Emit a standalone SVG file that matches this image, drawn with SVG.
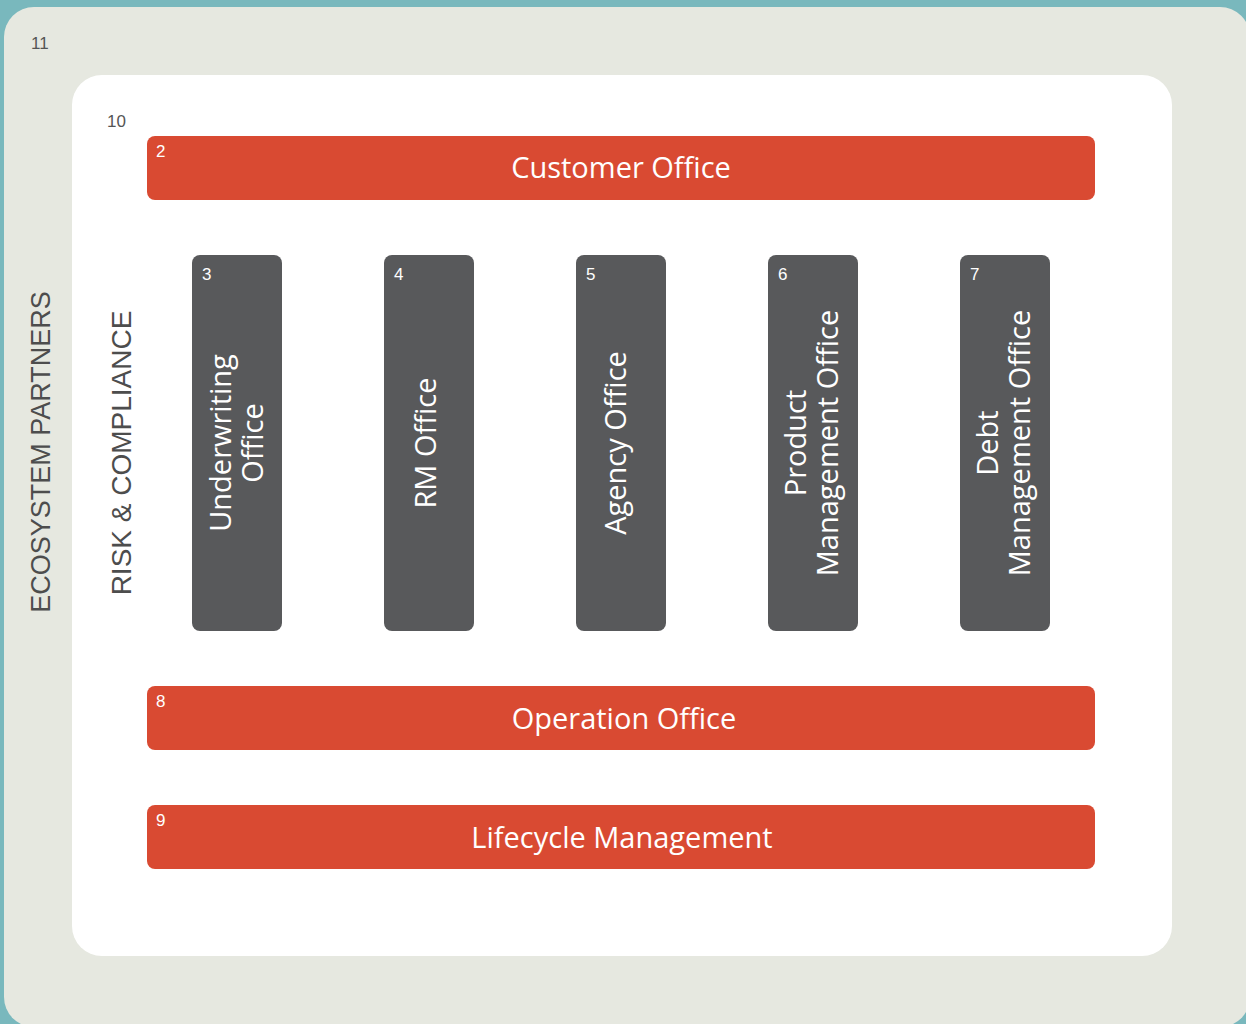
<svg xmlns="http://www.w3.org/2000/svg" width="1246" height="1024" viewBox="0 0 1246 1024">
<style>
.bar{fill:#d94a32}
.col{fill:#58595b}
.lbl{font-family:"Open Sans","Liberation Sans",sans-serif;font-size:29px;fill:#ffffff;text-anchor:middle}
.num{font-family:"Liberation Sans",sans-serif;font-size:17px;fill:#ffffff}
.gnum{font-family:"Liberation Sans",sans-serif;font-size:17px;fill:#555555}
.side{font-family:"Liberation Sans",sans-serif;font-size:27px;fill:#4d4d4d;text-anchor:middle}
</style>
<rect x="0" y="0" width="1246" height="1024" fill="#79b8bd"/>
<g id="n11">
<rect x="4" y="7" width="1246" height="1020" rx="30" fill="#e6e8e0"/>
<text class="gnum" x="31" y="49">11</text>
<text class="side" transform="translate(50,452) rotate(-90)">ECOSYSTEM PARTNERS</text>
</g>
<g id="n10">
<rect x="72" y="75" width="1100" height="881" rx="30" fill="#ffffff"/>
<text class="gnum" x="107" y="127">10</text>
<text class="side" style="font-size:28px" transform="translate(131,453) rotate(-90)">RISK &amp; COMPLIANCE</text>
</g>
<g id="n2">
<rect class="bar" x="147" y="136" width="948" height="64" rx="8"/>
<text class="num" x="156" y="157">2</text>
<text class="lbl" x="621" y="178">Customer Office</text>
</g>
<g id="n3">
<rect class="col" x="192" y="255" width="90" height="376" rx="8"/>
<text class="num" x="202" y="280">3</text>
<text class="lbl" transform="translate(0,443) rotate(-90)"><tspan x="0" y="231">Underwriting</tspan><tspan x="0" y="263">Office</tspan></text>
</g>
<g id="n4">
<rect class="col" x="384" y="255" width="90" height="376" rx="8"/>
<text class="num" x="394" y="280">4</text>
<text class="lbl" transform="translate(0,443) rotate(-90)"><tspan x="0" y="436">RM Office</tspan></text>
</g>
<g id="n5">
<rect class="col" x="576" y="255" width="90" height="376" rx="8"/>
<text class="num" x="586" y="280">5</text>
<text class="lbl" transform="translate(0,443) rotate(-90)"><tspan x="0" y="626">Agency Office</tspan></text>
</g>
<g id="n6">
<rect class="col" x="768" y="255" width="90" height="376" rx="8"/>
<text class="num" x="778" y="280">6</text>
<text class="lbl" transform="translate(0,443) rotate(-90)"><tspan x="0" y="806">Product</tspan><tspan x="0" y="838">Management Office</tspan></text>
</g>
<g id="n7">
<rect class="col" x="960" y="255" width="90" height="376" rx="8"/>
<text class="num" x="970" y="280">7</text>
<text class="lbl" transform="translate(0,443) rotate(-90)"><tspan x="0" y="998">Debt</tspan><tspan x="0" y="1030">Management Office</tspan></text>
</g>
<g id="n8">
<rect class="bar" x="147" y="686" width="948" height="64" rx="8"/>
<text class="num" x="156" y="707">8</text>
<text class="lbl" x="624" y="729">Operation Office</text>
</g>
<g id="n9">
<rect class="bar" x="147" y="805" width="948" height="64" rx="8"/>
<text class="num" x="156" y="826">9</text>
<text class="lbl" x="622" y="848">Lifecycle Management</text>
</g>
<g id="connectors"></g>
</svg>
